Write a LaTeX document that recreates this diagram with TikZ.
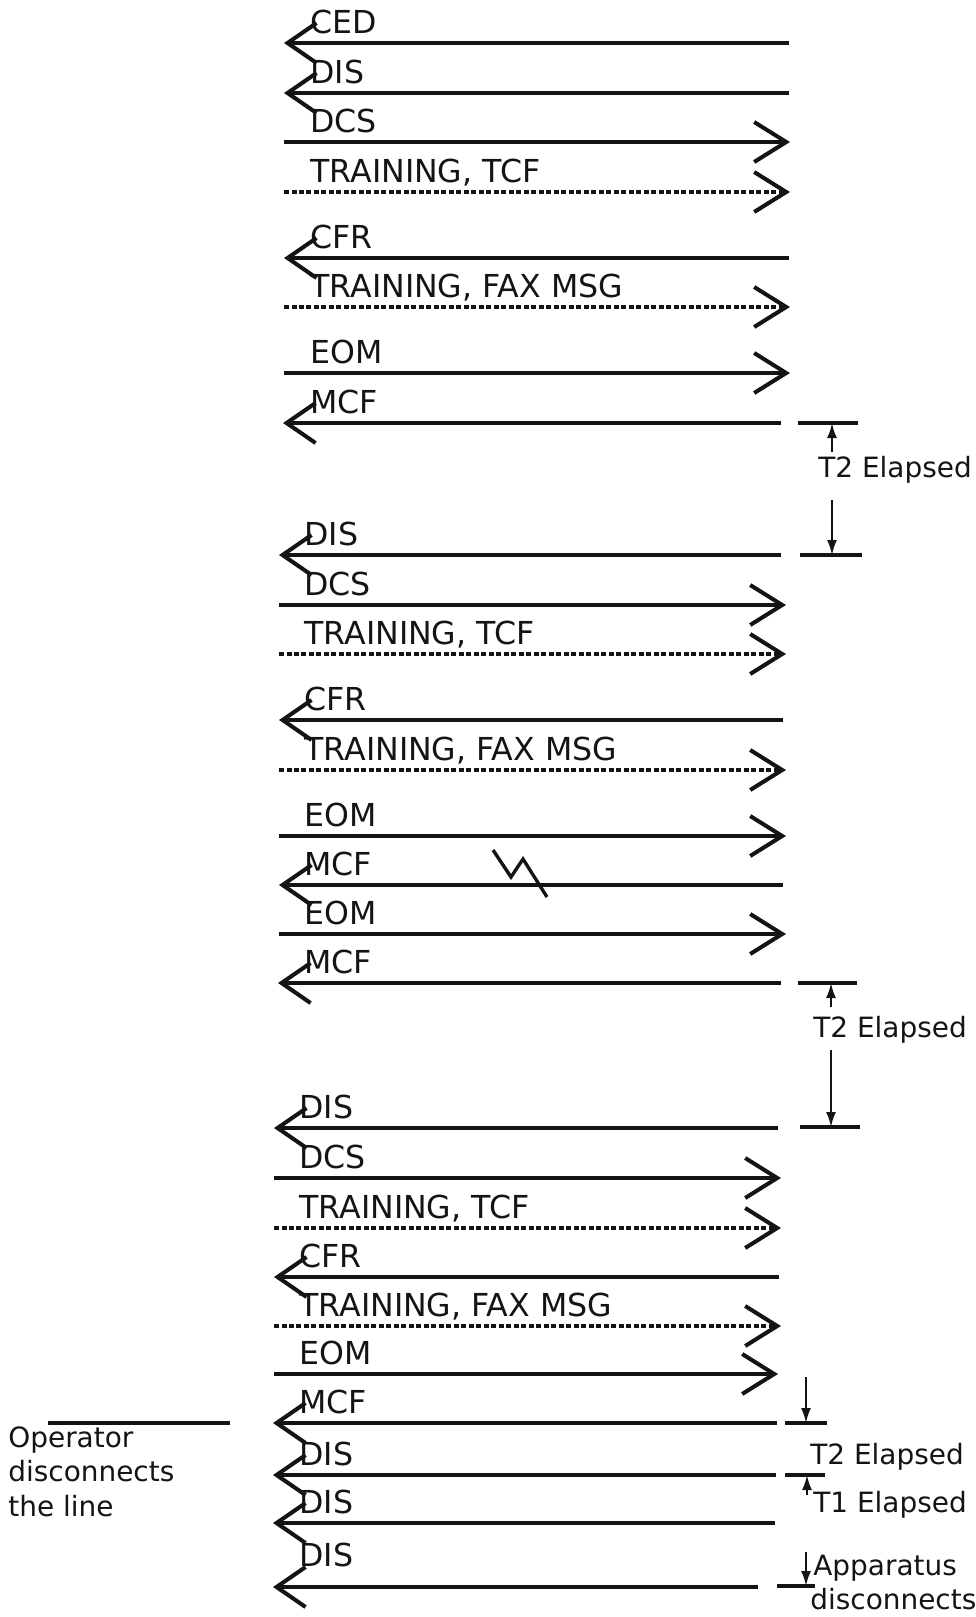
\documentclass[tikz,border=0pt]{standalone}
\usepackage{fontspec}
\setmainfont{DejaVu Sans}
\usepackage{tikz}
\usetikzlibrary{arrows.meta, positioning, calc}
\definecolor{myink}{RGB}{20,20,20}
\tikzset{
  recv/.style={-{Straight Barb[length=0.58cm, width=0.8cm, line width=2.3pt]},
    line width=1.9pt, color=myink},
  send/.style={-{Straight Barb[length=0.64cm, width=0.8cm, line width=2.3pt]},
    line width=1.9pt, color=myink},
  senddash/.style={send, dash pattern=on 0.1cm off 0.05cm},
  msg/.style={anchor=base west, inner sep=0pt,
    font=\fontsize{18}{21}\selectfont, text=myink},
  note/.style={anchor=west, inner sep=0pt,
    font=\fontsize{15.9}{19}\selectfont, text=myink},
  tick/.style={-{Latex[length=0.3cm, width=0.2cm]}, line width=1.2pt, color=myink},
  bar/.style={line width=1.9pt, color=myink}
}

\begin{document}
\begin{tikzpicture}[x=0.02cm, y=-0.02cm]
  \useasboundingbox (0,0) rectangle (976,1617);

  % first exchange
  \coordinate (a1) at (284,43);  \coordinate (b1) at (789,43);  \draw[recv] (b1) -- (a1); \node[msg] (m1) at (310,33) {CED};
  \coordinate (a2) at (284,93);  \coordinate (b2) at (789,93);  \draw[recv] (b2) -- (a2); \node[msg] (m2) at (310,83) {DIS};
  \coordinate (a3) at (284,142); \coordinate (b3) at (790,142); \draw[send] (a3) -- (b3); \node[msg] (m3) at (310,132) {DCS};
  \coordinate (a4) at (284,192); \coordinate (b4) at (790,192); \draw[senddash] (a4) -- (b4); \node[msg] (m4) at (310,182) {TRAINING, TCF};
  \coordinate (a5) at (284,258); \coordinate (b5) at (789,258); \draw[recv] (b5) -- (a5); \node[msg] (m5) at (310,248) {CFR};
  \coordinate (a6) at (284,307); \coordinate (b6) at (790,307); \draw[senddash] (a6) -- (b6); \node[msg] (m6) at (310,297) {TRAINING, FAX MSG};
  \coordinate (a7) at (284,373); \coordinate (b7) at (790,373); \draw[send] (a7) -- (b7); \node[msg] (m7) at (310,363) {EOM};
  \coordinate (a8) at (283,423); \coordinate (b8) at (781,423); \draw[recv] (b8) -- (a8); \node[msg] (m8) at (310,413) {MCF};

  % second exchange
  \coordinate (a9) at (279,555);  \coordinate (b9) at (781,555);  \draw[recv] (b9) -- (a9); \node[msg] (m9) at (304,545) {DIS};
  \coordinate (a10) at (279,605); \coordinate (b10) at (786,605); \draw[send] (a10) -- (b10); \node[msg] (m10) at (304,595) {DCS};
  \coordinate (a11) at (279,654); \coordinate (b11) at (786,654); \draw[senddash] (a11) -- (b11); \node[msg] (m11) at (304,644) {TRAINING, TCF};
  \coordinate (a12) at (279,720); \coordinate (b12) at (783,720); \draw[recv] (b12) -- (a12); \node[msg] (m12) at (304,710) {CFR};
  \coordinate (a13) at (279,770); \coordinate (b13) at (786,770); \draw[senddash] (a13) -- (b13); \node[msg] (m13) at (304,760) {TRAINING, FAX MSG};
  \coordinate (a14) at (279,836); \coordinate (b14) at (786,836); \draw[send] (a14) -- (b14); \node[msg] (m14) at (304,826) {EOM};
  \coordinate (a15) at (279,885); \coordinate (b15) at (783,885); \draw[recv] (b15) -- (a15); \node[msg] (m15) at (304,875) {MCF};
  \coordinate (a16) at (279,934); \coordinate (b16) at (786,934); \draw[send] (a16) -- (b16); \node[msg] (m16) at (304,924) {EOM};
  \coordinate (a17) at (278,983); \coordinate (b17) at (781,983); \draw[recv] (b17) -- (a17); \node[msg] (m17) at (304,973) {MCF};

  % break mark on MCF
  \draw[bar] (493,850) -- (511,877) -- (523,859) -- (547,897);

  % third exchange
  \coordinate (a18) at (274,1128); \coordinate (b18) at (778,1128); \draw[recv] (b18) -- (a18); \node[msg] (m18) at (299,1118) {DIS};
  \coordinate (a19) at (274,1178); \coordinate (b19) at (781,1178); \draw[send] (a19) -- (b19); \node[msg] (m19) at (299,1168) {DCS};
  \coordinate (a20) at (274,1228); \coordinate (b20) at (781,1228); \draw[senddash] (a20) -- (b20); \node[msg] (m20) at (299,1218) {TRAINING, TCF};
  \coordinate (a21) at (274,1277); \coordinate (b21) at (779,1277); \draw[recv] (b21) -- (a21); \node[msg] (m21) at (299,1267) {CFR};
  \coordinate (a22) at (274,1326); \coordinate (b22) at (781,1326); \draw[senddash] (a22) -- (b22); \node[msg] (m22) at (299,1316) {TRAINING, FAX MSG};
  \coordinate (a23) at (274,1374); \coordinate (b23) at (778,1374); \draw[send] (a23) -- (b23); \node[msg] (m23) at (299,1364) {EOM};
  \coordinate (a24) at (273,1423); \coordinate (b24) at (777,1423); \draw[recv] (b24) -- (a24); \node[msg] (m24) at (299,1413) {MCF};
  \coordinate (a25) at (273,1475); \coordinate (b25) at (776,1475); \draw[recv] (b25) -- (a25); \node[msg] (m25) at (299,1465) {DIS};
  \coordinate (a26) at (273,1523); \coordinate (b26) at (775,1523); \draw[recv] (b26) -- (a26); \node[msg] (m26) at (299,1513) {DIS};
  \coordinate (a27) at (273,1587); \coordinate (b27) at (758,1587); \draw[recv] (b27) -- (a27); \node[msg] (m27) at (299,1566) {DIS};

  % timers
  \coordinate (t1a) at (798,423);  \coordinate (t1b) at (858,423);  \draw[bar] (t1a) -- (t1b);
  \coordinate (t1c) at (800,555);  \coordinate (t1d) at (862,555);  \draw[bar] (t1c) -- (t1d);
  \node[note] (t1) at (818,470) {T2 Elapsed};
  \coordinate (t1u) at (832,452); \coordinate (t1v) at (832,423); \draw[tick] (t1u) -- (t1v);
  \coordinate (t1w) at (832,500); \coordinate (t1x) at (832,555); \draw[tick] (t1w) -- (t1x);

  \coordinate (t2a) at (798,983);  \coordinate (t2b) at (857,983);  \draw[bar] (t2a) -- (t2b);
  \coordinate (t2c) at (800,1127); \coordinate (t2d) at (860,1127); \draw[bar] (t2c) -- (t2d);
  \node[note] (t2) at (813,1030) {T2 Elapsed};
  \coordinate (t2u) at (831,1007); \coordinate (t2v) at (831,983);  \draw[tick] (t2u) -- (t2v);
  \coordinate (t2w) at (831,1050); \coordinate (t2x) at (831,1127); \draw[tick] (t2w) -- (t2x);

  \coordinate (t3a) at (785,1423); \coordinate (t3b) at (827,1423); \draw[bar] (t3a) -- (t3b);
  \coordinate (t3u) at (806,1377); \coordinate (t3v) at (806,1423); \draw[tick] (t3u) -- (t3v);
  \node[note] (t3) at (810,1457) {T2 Elapsed};
  \coordinate (t4a) at (785,1475); \coordinate (t4b) at (825,1475); \draw[bar] (t4a) -- (t4b);
  \coordinate (t4u) at (807,1495); \coordinate (t4v) at (807,1475); \draw[tick] (t4u) -- (t4v);
  \node[note] (t4) at (813,1505) {T1 Elapsed};
  \coordinate (t5a) at (777,1586); \coordinate (t5b) at (815,1586); \draw[bar] (t5a) -- (t5b);
  \coordinate (t5u) at (806,1552); \coordinate (t5v) at (806,1586); \draw[tick] (t5u) -- (t5v);
  \node[note] (t5) at (813,1568) {Apparatus};
  \node[note] (t6) at (810,1599) {disconnects};

  % operator side
  \coordinate (opa) at (48,1423); \coordinate (opb) at (230,1423); \draw[bar] (opa) -- (opb);
  \node[note, anchor=north west, align=left, font=\fontsize{15.9}{19.8}\selectfont] (op) at (8,1426)
    {Operator\\disconnects\\the line};
\end{tikzpicture}
\end{document}
